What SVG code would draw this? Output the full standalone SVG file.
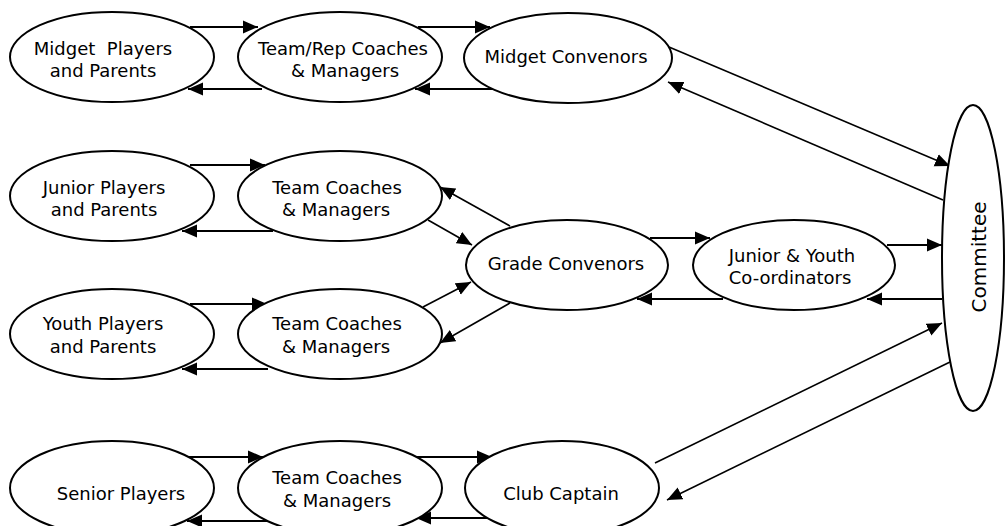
<svg xmlns="http://www.w3.org/2000/svg" width="1005" height="526" viewBox="0 0 1005 526">
<style>
.n ellipse{fill:#fff;stroke:#000;stroke-width:2}
.n text{font-family:"DejaVu Sans",Verdana,sans-serif;font-size:18px;fill:#000;text-anchor:middle}
#edges line{stroke:#000;stroke-width:2;marker-end:url(#ah)}
#edges line.d{stroke-width:1.6}
</style>
<defs>
<marker id="ah" markerUnits="userSpaceOnUse" markerWidth="16" markerHeight="14" refX="15" refY="6.5" orient="auto" viewBox="0 0 16 13">
<path d="M0,0 L15,6.5 L0,13 z" fill="#000"/>
</marker>
</defs>
<rect width="1005" height="526" fill="#fff"/>
<g id="edges">
<line x1="190" y1="27" x2="258" y2="27"/>
<line x1="262" y1="89" x2="188" y2="89"/>
<line x1="418" y1="27" x2="490" y2="27"/>
<line x1="493" y1="89" x2="415" y2="89"/>
<line class="d" x1="669" y1="47" x2="950" y2="166"/>
<line class="d" x1="943" y1="200" x2="668" y2="82"/>
<line x1="190" y1="165" x2="265" y2="165"/>
<line x1="273" y1="231" x2="182" y2="231"/>
<line x1="190" y1="304" x2="267" y2="304"/>
<line x1="268" y1="369" x2="182" y2="369"/>
<line class="d" x1="510" y1="226" x2="440" y2="187"/>
<line class="d" x1="428" y1="220" x2="472" y2="245"/>
<line class="d" x1="423" y1="307" x2="471" y2="282"/>
<line class="d" x1="510" y1="303" x2="440" y2="343"/>
<line x1="650" y1="238" x2="710" y2="238"/>
<line x1="723" y1="299" x2="637" y2="299"/>
<line x1="887" y1="245" x2="942" y2="245"/>
<line x1="942" y1="299" x2="867" y2="299"/>
<line x1="188" y1="457" x2="263" y2="457"/>
<line x1="280" y1="521" x2="187" y2="521"/>
<line x1="417" y1="457" x2="492" y2="457"/>
<line x1="493" y1="518" x2="416" y2="518"/>
<line class="d" x1="655" y1="463" x2="942" y2="323"/>
<line class="d" x1="950" y1="362" x2="667" y2="500"/>
</g>
<g id="midget-players" class="n"><ellipse cx="112" cy="57" rx="102" ry="45"/><text x="103" y="54.5" xml:space="preserve">Midget  Players</text><text x="103" y="76.5">and Parents</text></g>
<g id="rep-coaches" class="n"><ellipse cx="340" cy="57" rx="102" ry="45"/><text x="343" y="54.5">Team/Rep Coaches</text><text x="345" y="76.5">&amp; Managers</text></g>
<g id="midget-convenors" class="n"><ellipse cx="568" cy="58" rx="104" ry="45"/><text x="566" y="62.5">Midget Convenors</text></g>
<g id="junior-players" class="n"><ellipse cx="112" cy="196" rx="102" ry="45"/><text x="104" y="193.5">Junior Players</text><text x="104" y="215.5">and Parents</text></g>
<g id="junior-coaches" class="n"><ellipse cx="340" cy="196" rx="102" ry="45"/><text x="337" y="193.5">Team Coaches</text><text x="336" y="215.5">&amp; Managers</text></g>
<g id="youth-players" class="n"><ellipse cx="112" cy="334" rx="102" ry="45"/><text x="103" y="330">Youth Players</text><text x="103" y="353">and Parents</text></g>
<g id="youth-coaches" class="n"><ellipse cx="340" cy="334" rx="102" ry="45"/><text x="337" y="330">Team Coaches</text><text x="336" y="353">&amp; Managers</text></g>
<g id="grade-convenors" class="n"><ellipse cx="567" cy="265" rx="101" ry="45"/><text x="566" y="269.5">Grade Convenors</text></g>
<g id="jy-coordinators" class="n"><ellipse cx="794" cy="265" rx="101" ry="45"/><text x="792" y="261.5">Junior &amp; Youth</text><text x="790" y="283.5">Co-ordinators</text></g>
<g id="committee" class="n"><ellipse cx="973" cy="258" rx="31" ry="153"/><text transform="translate(979,257) rotate(-90)" x="0" y="7" style="font-size:20px">Committee</text></g>
<g id="senior-players" class="n"><ellipse cx="112" cy="488" rx="102" ry="47"/><text x="121" y="499.5">Senior Players</text></g>
<g id="senior-coaches" class="n"><ellipse cx="340" cy="488" rx="102" ry="47"/><text x="337" y="483.5">Team Coaches</text><text x="337" y="506.5">&amp; Managers</text></g>
<g id="club-captain" class="n"><ellipse cx="562" cy="488" rx="97" ry="47"/><text x="561" y="499.5">Club Captain</text></g>
</svg>
